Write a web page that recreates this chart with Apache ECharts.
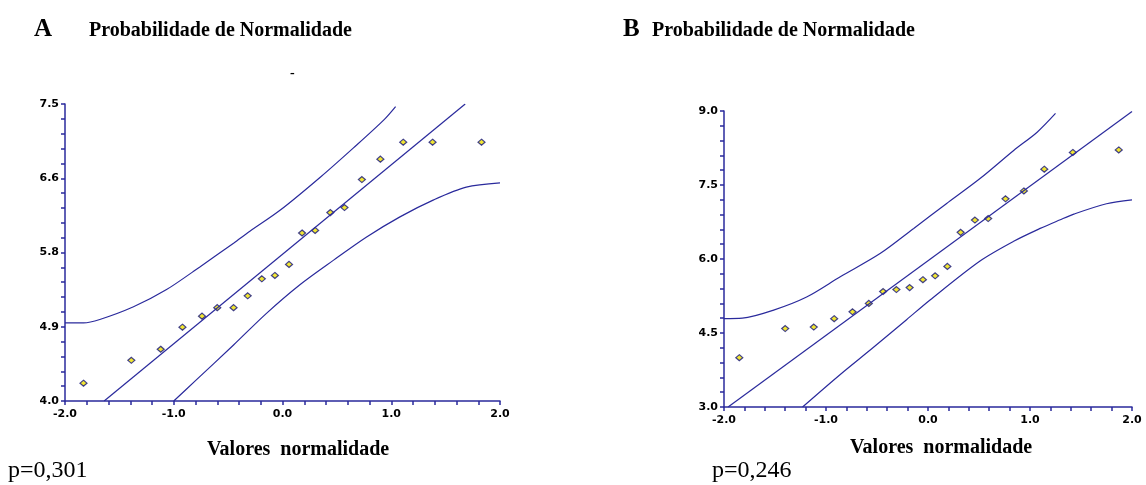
<!DOCTYPE html>
<html>
<head>
<meta charset="utf-8">
<script src="https://cdn.jsdelivr.net/npm/echarts@6/dist/echarts.min.js"></script>
<style>
  html, body { margin: 0; padding: 0; background: #fff; }
  #chart { width: 1146px; height: 485px; }
</style>
</head>
<body>
<div id="chart"></div>
<script>
const normA = [-1.83, -1.39, -1.12, -0.92, -0.74, -0.60, -0.45, -0.32, -0.19, -0.07, 0.06, 0.18, 0.30, 0.44, 0.57, 0.73, 0.90, 1.11, 1.38, 1.83];
const valA = [4.21, 4.48, 4.61, 4.87, 5.00, 5.10, 5.10, 5.24, 5.44, 5.48, 5.61, 5.98, 6.01, 6.22, 6.28, 6.61, 6.85, 7.05, 7.05, 7.05];
const fitAx = [-1.64, 1.68];
const fitAy = [4.0, 7.5];
const upAx = [-2.0, -1.83, -1.68, -1.37, -1.07, -0.76, -0.45, -0.30, -0.02, 0.35, 0.65, 0.93, 1.04];
const upAy = [4.92, 4.92, 4.96, 5.11, 5.31, 5.58, 5.86, 6.00, 6.25, 6.64, 6.98, 7.31, 7.47];
const loAx = [-1.0, -0.80, -0.45, -0.15, 0.16, 0.47, 0.77, 1.08, 1.39, 1.69, 2.0];
const loAy = [4.0, 4.24, 4.66, 5.03, 5.37, 5.66, 5.93, 6.17, 6.37, 6.52, 6.57];
const yTicksA = ['4.0', '4.9', '5.8', '6.6', '7.5'];

const normB = [-1.85, -1.40, -1.12, -0.92, -0.74, -0.58, -0.44, -0.31, -0.18, -0.05, 0.07, 0.19, 0.32, 0.46, 0.59, 0.76, 0.94, 1.14, 1.42, 1.87];
const valB = [4.00, 4.59, 4.62, 4.79, 4.93, 5.10, 5.34, 5.38, 5.42, 5.58, 5.66, 5.85, 6.54, 6.79, 6.82, 7.22, 7.38, 7.82, 8.16, 8.21];
const fitBx = [-1.96, 2.0];
const fitBy = [3.0, 8.99];
const upBx = [-2.0, -1.82, -1.52, -1.19, -0.86, -0.47, -0.14, 0.18, 0.51, 0.84, 1.07, 1.25];
const upBy = [4.79, 4.80, 4.96, 5.23, 5.64, 6.11, 6.62, 7.12, 7.63, 8.20, 8.57, 8.95];
const loBx = [-1.23, -0.86, -0.54, -0.21, 0.02, 0.51, 0.84, 1.10, 1.29, 1.43, 1.75, 2.0];
const loBy = [3.0, 3.66, 4.20, 4.77, 5.17, 5.96, 6.36, 6.62, 6.79, 6.91, 7.12, 7.20];
const yTicksB = ['3.0', '4.5', '6.0', '7.5', '9.0'];

const xTicks = ['-2.0', '-1.0', '0.0', '1.0', '2.0'];

const pair = (xs, ys) => xs.map((x, i) => [x, ys[i]]);

const blue = '#2a2a9c';
const tickFont = { color: '#000', fontSize: 11, fontWeight: 'bold', fontFamily: 'DejaVu Sans' };

function xAxisFor(grid) {
  return {
    type: 'value', gridIndex: grid, min: -2, max: 2, interval: 1,
    axisLine: { onZero: false, lineStyle: { color: blue, width: 1.5 } },
    axisTick: { length: 4, lineStyle: { color: blue, width: 1.5 } },
    minorTick: { show: true, splitNumber: 5, length: 4, lineStyle: { color: blue, width: 1.5 } },
    splitLine: { show: false },
    axisLabel: Object.assign({ margin: 8, formatter: (v) => xTicks[Math.round(v) + 2] }, tickFont)
  };
}

function yAxisFor(grid, min, max, interval, ticks) {
  return {
    type: 'value', gridIndex: grid, min: min, max: max, interval: interval,
    axisLine: { show: true, onZero: false, lineStyle: { color: blue, width: 1.5 } },
    axisTick: { show: true, length: 4, lineStyle: { color: blue, width: 1.5 } },
    minorTick: { show: true, splitNumber: 5, length: 4, lineStyle: { color: blue, width: 1.5 } },
    splitLine: { show: false },
    axisLabel: Object.assign({ margin: 6, formatter: (v) => ticks[Math.round((v - min) / interval)] }, tickFont)
  };
}

function lineSeries(idx, data) {
  return {
    type: 'line', xAxisIndex: idx, yAxisIndex: idx, data: data,
    smooth: 0.3, showSymbol: false, silent: true,
    lineStyle: { color: blue, width: 1.2 }
  };
}

function pointSeries(idx, data) {
  return {
    type: 'scatter', xAxisIndex: idx, yAxisIndex: idx, data: data,
    symbol: 'diamond', symbolSize: [7, 6],
    itemStyle: { color: '#eee000', borderColor: '#14147a', borderWidth: 1.2 }
  };
}

const myChart = echarts.init(document.getElementById('chart'));
myChart.setOption({
  animation: false,
  backgroundColor: '#fff',
  grid: [
    { left: 65, top: 104, width: 435, height: 297 },
    { left: 724, top: 111, width: 408, height: 296 }
  ],
  xAxis: [xAxisFor(0), xAxisFor(1)],
  yAxis: [
    yAxisFor(0, 4.0, 7.5, 0.875, yTicksA),
    yAxisFor(1, 3.0, 9.0, 1.5, yTicksB)
  ],
  series: [
    lineSeries(0, pair(upAx, upAy)),
    lineSeries(0, pair(fitAx, fitAy)),
    lineSeries(0, pair(loAx, loAy)),
    pointSeries(0, pair(normA, valA)),
    lineSeries(1, pair(upBx, upBy)),
    lineSeries(1, pair(fitBx, fitBy)),
    lineSeries(1, pair(loBx, loBy)),
    pointSeries(1, pair(normB, valB))
  ],
  graphic: [
    { type: 'text', left: 34, top: 17, style: { text: 'A', font: 'bold 25px "Liberation Serif"', fill: '#000' } },
    { type: 'text', left: 89, top: 21, style: { text: 'Probabilidade de Normalidade', font: 'bold 20px "Liberation Serif"', fill: '#000' } },
    { type: 'text', left: 623, top: 17, style: { text: 'B', font: 'bold 25px "Liberation Serif"', fill: '#000' } },
    { type: 'text', left: 652, top: 21, style: { text: 'Probabilidade de Normalidade', font: 'bold 20px "Liberation Serif"', fill: '#000' } },
    { type: 'text', left: 290, top: 66, style: { text: '-', font: 'bold 14px "Liberation Serif"', fill: '#000' } },
    { type: 'text', left: 207, top: 440, style: { text: 'Valores  normalidade', font: 'bold 20px "Liberation Serif"', fill: '#000' } },
    { type: 'text', left: 850, top: 438, style: { text: 'Valores  normalidade', font: 'bold 20px "Liberation Serif"', fill: '#000' } },
    { type: 'text', left: 8, top: 459, style: { text: 'p=0,301', font: '24px "Liberation Serif"', fill: '#000' } },
    { type: 'text', left: 712, top: 459, style: { text: 'p=0,246', font: '24px "Liberation Serif"', fill: '#000' } }
  ]
});
</script>
</body>
</html>
